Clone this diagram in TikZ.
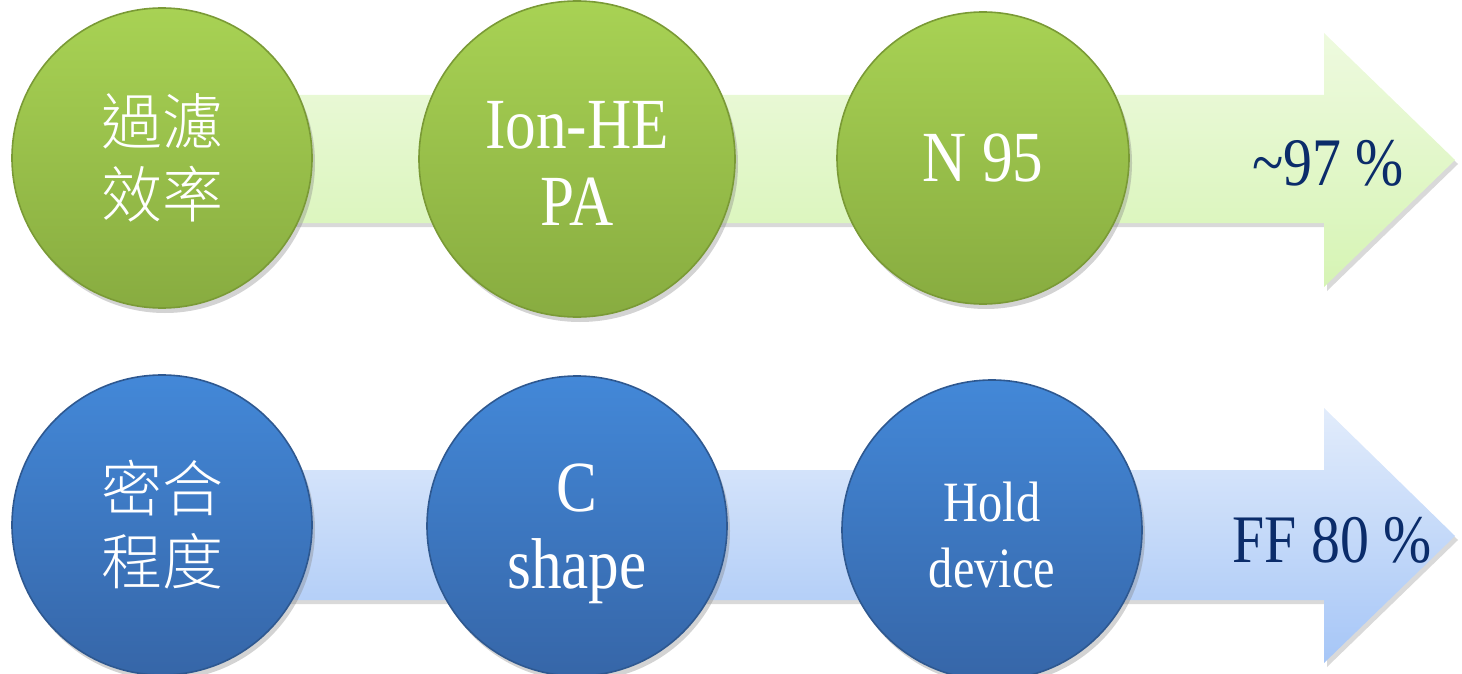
\documentclass[tikz,border=0pt]{standalone}
\usepackage{fontspec}
\setmainfont{Liberation Serif}[FakeStretch=0.85]
\newfontfamily\cjk{Noto Sans CJK TC}[UprightFont={* Light}]
\usetikzlibrary{shadows}
\definecolor{gTop}{HTML}{A8D254}
\definecolor{gBot}{HTML}{88AC40}
\definecolor{gEdge}{HTML}{7A9A36}
\definecolor{bTop}{HTML}{4388D8}
\definecolor{bBot}{HTML}{3666A8}
\definecolor{bEdge}{HTML}{2E5890}
\definecolor{gaTop}{HTML}{EEFADF}
\definecolor{gaBot}{HTML}{D6F4B4}
\definecolor{baTop}{HTML}{E2ECFB}
\definecolor{baBot}{HTML}{A6C6F7}
\definecolor{navy}{HTML}{0B2C6A}
\tikzset{
  ball/.style={circle, inner sep=0pt, align=center, text=white, line width=0.8pt,
     drop shadow={opacity=0.35, shadow xshift=1.5pt, shadow yshift=-2.5pt}},
  greenball/.style={ball, top color=gTop, bottom color=gBot, draw=gEdge},
  blueball/.style={ball, top color=bTop, bottom color=bBot, draw=bEdge},
  bigarrow/.style={drop shadow={opacity=0.3, shadow xshift=1.5pt, shadow yshift=-2pt}},
  latin/.style={font=\fontsize{36}{38.5}\selectfont},
  small/.style={font=\fontsize{28.5}{32.5}\selectfont},
  cjktext/.style={font=\cjk\fontsize{30.5}{36.5}\selectfont},
  endlabel/.style={text=navy, font=\fontsize{34}{38}\selectfont, inner sep=0pt}
}
\begin{document}
\begin{tikzpicture}[x=0.5pt, y=-0.5pt]
\useasboundingbox (0,0) rectangle (1462,674);
% arrows
\path[bigarrow, top color=gaTop, bottom color=gaBot]
  (170,95) -- (1324,95) -- (1324,33) -- (1455,160) -- (1324,287) -- (1324,223) -- (170,223) -- cycle;
\path[bigarrow, top color=baTop, bottom color=baBot]
  (170,470) -- (1324,470) -- (1324,408) -- (1455,536) -- (1324,663) -- (1324,600) -- (170,600) -- cycle;
% top row
\node[greenball, minimum size=150pt] (g1) at (162,158) {};
\node[cjktext, text=white, align=center] (g1t) at (g1.center) {過濾\\效率};
\node[greenball, minimum size=158pt] (g2) at (577,159) {};
\node[latin, text=white, align=center] (g2t) at ([yshift=-2pt]g2.center) {Ion-HE\\PA};
\node[greenball, latin, minimum size=146pt] (g3) at (983,158) {N 95};
\node[endlabel] (e1) at (1328,163) {\textasciitilde97 \%};
% bottom row
\node[blueball, minimum size=150pt] (b1) at (162,525) {};
\node[cjktext, text=white, align=center] (b1t) at (b1.center) {密合\\程度};
\node[blueball, minimum size=150pt] (b2) at (577,526) {};
\node[latin, text=white, align=center] (b2t) at ([yshift=-4pt]b2.center) {C\\shape};
\node[blueball, minimum size=150pt] (b3) at (992,530) {};
\node[small, text=white, align=center] (b3t) at ([yshift=-2.5pt]b3.center) {Hold\\device};
\node[endlabel] (e2) at (1332,540) {FF 80 \%};
\end{tikzpicture}
\end{document}
